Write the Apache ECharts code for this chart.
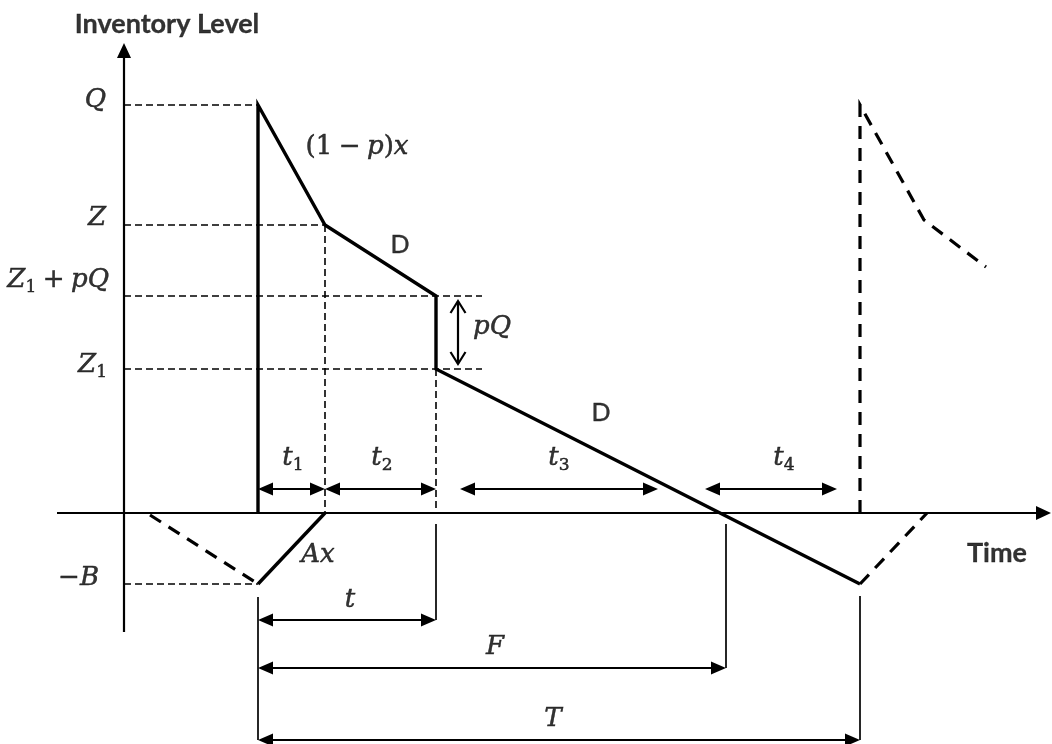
<!DOCTYPE html>
<html><head><meta charset="utf-8">
<script src="https://cdn.jsdelivr.net/npm/echarts@6/dist/echarts.min.js"></script>
<style>html,body{margin:0;padding:0;background:#fff}#c{width:1052px;height:744px}</style>
</head><body><div id="c"></div>
<script>
// ---------- values (time across, inventory level up) ----------
// axes
const timeAxisRange = [-67, 927];
const levelAxisRange = [-119, 470];

// inventory levels
const levelNames  = ['Q', 'Z', 'Z1 + pQ', 'Z1', '-B'];
const levelValues = [408, 288, 217, 144, -71];
const levelGuideEnd = [134, 201, 358, 358, 134];

// one inventory cycle (solid path)
const cycleTime  = [134, 134, 201, 312, 312, 736];
const cycleLevel = [0, 408, 288, 217, 144, -71];
// backorder filling during t1 (rate Ax)
const backfillTime  = [134, 201];
const backfillLevel = [-71, 0];
// previous cycle (dashed)
const prevTime  = [26, 134];
const prevLevel = [-2, -71];
// next cycle (dashed)
const nextTime  = [736, 736, 800, 862];
const nextLevel = [0, 408, 293, 246];
const nextBackTime  = [736, 803];
const nextBackLevel = [-71, 0];

// vertical dashed guides
const vGuideTime = [201, 312];
const vGuideTop  = [288, 144];
// vertical solid extension lines
const extTime   = [134, 312, 602, 736];
const extTop    = [-84, -11, -11, -83];
const extBottom = [-227, -107, -155, -227];

// dimension arrows
const dimNames = ['t1', 't2', 't3', 't4', 't', 'F', 'T'];
const dimFrom  = [134, 201, 336, 581, 134, 134, 134];
const dimTo    = [201, 312, 534, 713, 312, 602, 736];
const dimLevel = [24, 24, 24, 24, -107, -155, -227];

// pQ jump arrow
const jumpTime = 334;
const jumpTop = 212;
const jumpBottom = 149;

// text labels
const labelTexts = [
  '{b|Inventory Level}', '{b|Time}',
  '{m|Q}', '{m|Z}', '{m|Z}{s|1}{u|\u2005+\u2005}{m|pQ}', '{m|Z}{s|1}', '{u|−}{m|B}',
  '{u|(1\u2005−\u2005}{m|p}{u|)}{m|x}', '{r|D}', '{r|D}', '{m|pQ}', '{m|Ax}',
  '{m|t}{s|1}', '{m|t}{s|2}', '{m|t}{s|3}', '{m|t}{s|4}', '{m|t}', '{m|F}', '{m|T}'
];
const labelX = [43, 873, -18, -18, -15, -17, -25, 233, 276, 477, 349, 194, 169, 258, 435, 660, 226, 371, 429];
const labelY = [489, -40, 413, 295, 233, 148, -65, 366, 268, 100, 186, -42, 55, 55, 55, 55, -87, -134, -206];
const labelPos = ['inside', 'inside', 'left', 'left', 'left', 'left', 'left', 'inside', 'inside', 'inside', 'right', 'inside',
  'inside', 'inside', 'inside', 'inside', 'inside', 'inside', 'inside'];

// ---------- drawing ----------
const pairs = (xs, ys) => xs.map((x, i) => [x, ys[i]]);

function segmentRenderer(width, dash, headLen, headWid) {
  return function (params, api) {
    const a = api.coord([api.value(0), api.value(1)]);
    const b = api.coord([api.value(2), api.value(3)]);
    const hA = api.value(4) || 0, hB = api.value(5) || 0;
    const dx = b[0] - a[0], dy = b[1] - a[1];
    const len = Math.hypot(dx, dy) || 1;
    const ux = dx / len, uy = dy / len, nx = -uy, ny = ux;
    const kids = [];
    let s = a.slice(), e = b.slice();
    function head(tip, dxu, dyu, kind) {
      const bx = tip[0] - dxu * headLen, by = tip[1] - dyu * headLen;
      const p1 = [bx + nx * headWid / 2, by + ny * headWid / 2];
      const p2 = [bx - nx * headWid / 2, by - ny * headWid / 2];
      if (kind === 1) {
        kids.push({ type: 'polygon', shape: { points: [tip, p1, p2] }, style: { fill: '#000', stroke: null } });
      } else {
        kids.push({ type: 'polyline', shape: { points: [p1, tip, p2] }, style: { stroke: '#000', fill: null, lineWidth: width } });
      }
    }
    if (hA) { head(a, -ux, -uy, hA); if (hA === 1) s = [a[0] + ux * headLen * 0.8, a[1] + uy * headLen * 0.8]; }
    if (hB) { head(b, ux, uy, hB); if (hB === 1) e = [b[0] - ux * headLen * 0.8, b[1] - uy * headLen * 0.8]; }
    kids.unshift({ type: 'line', shape: { x1: s[0], y1: s[1], x2: e[0], y2: e[1] },
      style: { stroke: '#000', lineWidth: width, lineDash: dash } });
    return { type: 'group', children: kids };
  };
}

function segSeries(data, width, dash, headLen, headWid) {
  return { type: 'custom', coordinateSystem: 'cartesian2d', clip: false, silent: true,
    renderItem: segmentRenderer(width, dash, headLen || 0, headWid || 0), data: data, z: 3 };
}

function pathSeries(xs, ys, width, dash) {
  return { type: 'line', data: pairs(xs, ys), showSymbol: false, symbol: 'none', silent: true, z: 4,
    lineStyle: { color: '#000', width: width, type: dash || 'solid', join: 'miter', cap: 'butt' } };
}

const axisData = [
  [timeAxisRange[0], 0, timeAxisRange[1], 0, 0, 1],
  [0, levelAxisRange[0], 0, levelAxisRange[1], 0, 1]
];
const hGuideData = levelValues.map((v, i) => [0, v, levelGuideEnd[i], v, 0, 0]);
const vGuideData = vGuideTime.map((t, i) => [t, vGuideTop[i], t, 0, 0, 0]);
const extData = extTime.map((t, i) => [t, extTop[i], t, extBottom[i], 0, 0]);
const dimData = dimNames.map((n, i) => [dimFrom[i], dimLevel[i], dimTo[i], dimLevel[i], 1, 1]);
const jumpData = [[jumpTime, jumpTop, jumpTime, jumpBottom, 2, 2]];

const mathFont = 'DejaVu Serif';
const ink = '#000000';
const mathStroke = { textBorderColor: ink, textBorderWidth: 0.5 };
const rich = {
  b: { fontFamily: 'Lato', fontWeight: 'bold', fontSize: 27, color: ink, lineHeight: 32, textBorderColor: ink, textBorderWidth: 0.3 },
  r: { fontFamily: 'Lato', fontSize: 25, color: ink, lineHeight: 32, textBorderColor: ink, textBorderWidth: 0.4 },
  m: Object.assign({ fontFamily: mathFont, fontStyle: 'italic', fontSize: 26, color: ink, lineHeight: 32, verticalAlign: 'middle' }, mathStroke),
  u: Object.assign({ fontFamily: mathFont, fontSize: 26, color: ink, lineHeight: 32, verticalAlign: 'middle' }, mathStroke),
  s: Object.assign({ fontFamily: mathFont, fontSize: 17, color: ink, lineHeight: 13, verticalAlign: 'bottom' }, mathStroke)
};

const labelData = labelTexts.map((t, i) => ({
  value: [labelX[i], labelY[i]],
  label: { show: true, position: labelPos[i], distance: 0, formatter: t, color: ink, rich: rich }
}));

const option = {
  animation: false,
  backgroundColor: '#ffffff',
  grid: { left: 0, right: 0, top: 0, bottom: 0 },
  xAxis: { type: 'value', min: -124, max: 928, show: false },
  yAxis: { type: 'value', min: -231, max: 513, show: false },
  series: [
    segSeries(hGuideData, 1.6, [7, 4]),
    segSeries(vGuideData, 1.6, [7, 4]),
    segSeries(extData, 1.7, null),
    segSeries(axisData, 2.2, null, 15, 14),
    segSeries(dimData, 2.2, null, 15, 13),
    segSeries(jumpData, 2.2, null, 12, 15),
    pathSeries(cycleTime, cycleLevel, 3.4),
    pathSeries(backfillTime, backfillLevel, 3.4),
    pathSeries(prevTime, prevLevel, 3.2, [13, 9]),
    pathSeries(nextTime, nextLevel, 3.2, [13, 9]),
    pathSeries(nextBackTime, nextBackLevel, 3.2, [13, 9]),
    { type: 'scatter', symbolSize: 0, silent: true, z: 6, data: labelData }
  ]
};

const chart = echarts.init(document.getElementById('c'), null, { renderer: 'canvas' });
chart.setOption(option);
</script></body></html>
